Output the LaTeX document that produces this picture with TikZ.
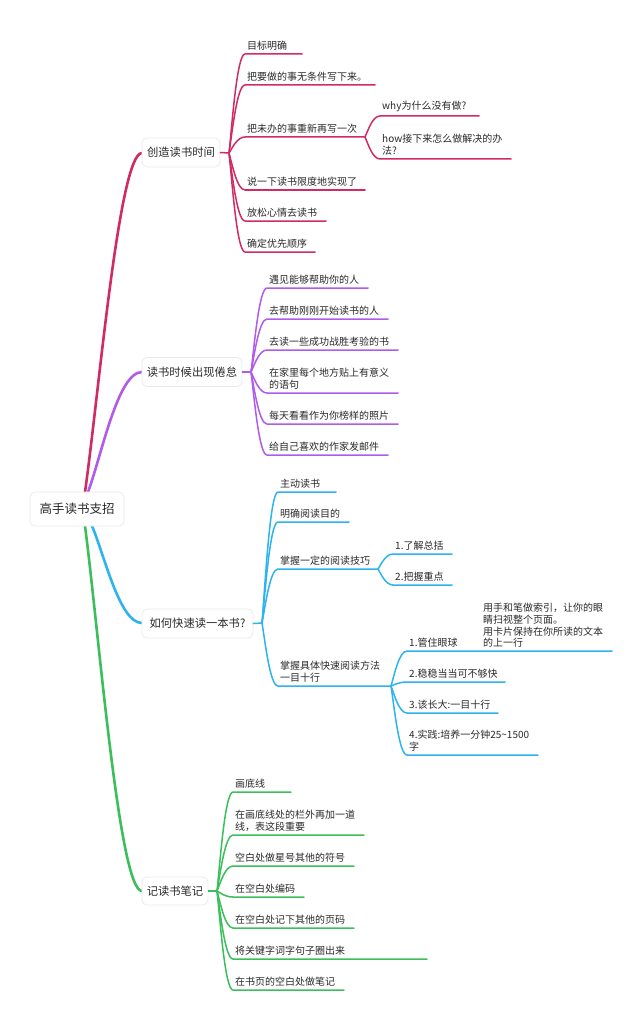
\documentclass[tikz,border=0pt]{standalone}
\usepackage{fontspec}
\setmainfont{Noto Sans CJK SC}
\usetikzlibrary{calc}
\definecolor{cred}{HTML}{D02B63}
\definecolor{cpurple}{HTML}{B05CE8}
\definecolor{cblue}{HTML}{2DB3EE}
\definecolor{cgreen}{HTML}{3CBE5C}
\definecolor{ctext}{HTML}{2A2A2A}
\tikzset{
  lab/.style={inner sep=0pt,align=left,text=ctext,font=\fontsize{10}{11.8}\selectfont},
  rootbox/.style={draw=black!8,fill=white,rounded corners=5pt,line width=.8pt,text=ctext,inner sep=0pt,font=\fontsize{12.5}{15}\selectfont},
  topicbox/.style={draw=black!8,fill=white,rounded corners=5pt,line width=.8pt,text=ctext,inner sep=0pt,font=\fontsize{11.3}{13}\selectfont},
  conn/.style={line width=1.5pt,line cap=round,line join=round},
  trunk/.style={line width=2.6pt,line cap=round}
}
% name, hub, colour, start x, line y, end x, text
\newcommand{\leafnode}[7]{%
  \coordinate (#1-s) at (#4,#5);
  \coordinate (#1-e) at (#6,#5);
  \node[lab,anchor=south west] (#1) at ($(#1-s)+(2,-3.5)$) {#7};
  \draw[conn,#3] let \p1=(#2),\p2=(#1-s) in (#2) .. controls (\x1+.2*\x2-.2*\x1,\y1+.3*\y2-.3*\y1) and (\x1+.5*\x2-.5*\x1,\y2) .. (#1-s) -- (#1-e);
}
% start, end, colour, control fraction
\newcommand{\trunkline}[4]{%
  \draw[trunk,#3] let \p1=(#1),\p2=(#2) in (#1) .. controls (\x1+.25*\x2-.25*\x1,\y1+.3*\y2-.3*\y1) and (\x1+#4*\x2-#4*\x1,\y2) .. (#2);
}
\begin{document}
\begin{tikzpicture}[x=1pt,y=-1pt]
\useasboundingbox (0,0) rectangle (640,1019);
\fill[white] (0,0) rectangle (640,1019);
% centres
\coordinate (rootR) at (85,492);
\coordinate (rootP) at (88,492);
\coordinate (rootB) at (92,526);
\coordinate (rootG) at (85,526);
\coordinate (tR) at (142,153);
\coordinate (tP) at (142,372);
\coordinate (tB) at (142,623);
\coordinate (tG) at (142,891);
\trunkline{rootR}{tR}{cred}{.6}
\trunkline{rootP}{tP}{cpurple}{.55}
\trunkline{rootB}{tB}{cblue}{.55}
\trunkline{rootG}{tG}{cgreen}{.6}
\node[rootbox,minimum width=94pt,minimum height=34pt] (root) at (77,509) {高手读书支招};
\node[topicbox,minimum width=78pt,minimum height=29pt] (topicA) at (181,152.5) {创造读书时间\hspace{1pt}};
\node[topicbox,minimum width=100pt,minimum height=29pt] (topicB) at (192,372) {读书时候出现倦怠};
\node[topicbox,minimum width=111pt,minimum height=29pt] (topicC) at (197.5,623.5) {如何快速读一本书?\hspace{6pt}};
\node[topicbox,minimum width=66pt,minimum height=28pt] (topicD) at (175,891) {记读书笔记};
% hubs
\coordinate (hubA) at (229,153);
\coordinate (hubB) at (251,372);
\coordinate (hubC) at (262,623);
\coordinate (hubD) at (217,891);
\draw[conn,cred] (topicA.east) -- (hubA);
\draw[conn,cpurple] (topicB.east) -- (hubB);
\draw[conn,cblue] (topicC.east) -- (hubC);
\draw[conn,cgreen] (topicD.east) -- (hubD);
% red
\leafnode{a1}{hubA}{cred}{245}{54}{302}{目标明确}
\leafnode{a2}{hubA}{cred}{245}{85}{375}{把要做的事无条件写下来。}
\leafnode{a3}{hubA}{cred}{245}{137}{365}{把未办的事重新再写一次}
\leafnode{a4}{hubA}{cred}{245}{190}{365}{说一下读书限度地实现了}
\leafnode{a5}{hubA}{cred}{245}{221}{326}{放松心情去读书}
\leafnode{a6}{hubA}{cred}{245}{252}{315}{确定优先顺序}
\leafnode{a31}{a3-e}{cred}{380}{116}{479}{why为什么没有做?}
\leafnode{a32}{a3-e}{cred}{380}{159}{511}{how接下来怎么做解决的办\\法?}
% purple
\leafnode{b1}{hubB}{cpurple}{267}{288}{368}{遇见能够帮助你的人}
\leafnode{b2}{hubB}{cpurple}{267}{319}{388}{去帮助刚刚开始读书的人}
\leafnode{b3}{hubB}{cpurple}{267}{350}{398}{去读一些成功战胜考验的书}
\leafnode{b4}{hubB}{cpurple}{267}{393}{398}{在家里每个地方贴上有意义\\的语句}
\leafnode{b5}{hubB}{cpurple}{267}{424}{398}{每天看看作为你榜样的照片}
\leafnode{b6}{hubB}{cpurple}{267}{455}{388}{给自己喜欢的作家发邮件}
% blue
\leafnode{c1}{hubC}{cblue}{278}{492}{336}{主动读书}
\leafnode{c2}{hubC}{cblue}{278}{522}{349}{明确阅读目的}
\leafnode{c3}{hubC}{cblue}{278}{569}{378}{掌握一定的阅读技巧}
\leafnode{c4}{hubC}{cblue}{278}{686}{391}{掌握具体快速阅读方法\\一目十行}
\leafnode{c31}{c3-e}{cblue}{393}{554}{452}{1.了解总括}
\leafnode{c32}{c3-e}{cblue}{393}{585}{452}{2.把握重点}
\leafnode{c41}{c4-e}{cblue}{407}{651}{612}{1.管住眼球}
\leafnode{c42}{c4-e}{cblue}{407}{682}{505}{2.稳稳当当可不够快}
\leafnode{c43}{c4-e}{cblue}{407}{713}{498}{3.该长大:一目十行}
\leafnode{c44}{c4-e}{cblue}{407}{755}{538}{4.实践:培养一分钟25\textasciitilde1500\\字}
\node[lab,anchor=south west] (c41note) at (483,648) {用手和笔做索引，让你的眼\\睛扫视整个页面。\\用卡片保持在你所读的文本\\的上一行};
% green
\leafnode{d1}{hubD}{cgreen}{233}{792}{291}{画底线}
\leafnode{d2}{hubD}{cgreen}{233}{835}{364}{在画底线处的栏外再加一道\\线，表这段重要}
\leafnode{d3}{hubD}{cgreen}{233}{866}{354}{空白处做星号其他的符号}
\leafnode{d4}{hubD}{cgreen}{233}{897}{304}{在空白处编码}
\leafnode{d5}{hubD}{cgreen}{233}{928}{354}{在空白处记下其他的页码}
\leafnode{d6}{hubD}{cgreen}{233}{959}{427}{将关键字词字句子圈出来}
\leafnode{d7}{hubD}{cgreen}{233}{990}{344}{在书页的空白处做笔记}
\end{tikzpicture}
\end{document}
